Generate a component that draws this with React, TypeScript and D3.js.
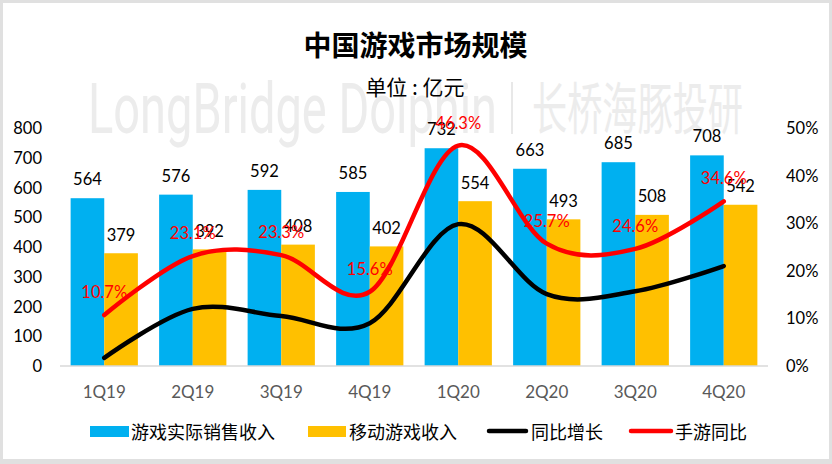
import React from 'react';
import * as d3 from 'd3';

const categories = ['1Q19', '2Q19', '3Q19', '4Q19', '1Q20', '2Q20', '3Q20', '4Q20'];
const totalRevenue = [564, 576, 592, 585, 732, 663, 685, 708];
const mobileRevenue = [379, 392, 408, 402, 554, 493, 508, 542];
const totalYoY = [1.7, 12.0, 10.5, 9.0, 29.8, 15.1, 15.7, 21.0];
const mobileYoY = [10.7, 23.1, 23.3, 15.6, 46.3, 25.7, 24.6, 34.6];
const leftTicks = [0, 100, 200, 300, 400, 500, 600, 700, 800];
const rightTicks = [0, 10, 20, 30, 40, 50];
const legendItems = ['游戏实际销售收入', '移动游戏收入', '同比增长', '手游同比'];

const W = 832;
const H = 464;
const BLUE = '#00B0F0';
const ORANGE = '#FFC000';
const RED = '#FF0000';
const NUM_FONT = 'Lato, "Liberation Sans", sans-serif';
const CJK_FONT = '"Noto Sans CJK SC", "Noto Sans", sans-serif';

export default function App() {
  const x = d3.scaleBand<string>().domain(categories).range([60, 768]).paddingInner(0.24).paddingOuter(0.12);
  const sub = d3.scaleBand<string>().domain(['total', 'mobile']).range([0, x.bandwidth()]);
  const yL = d3.scaleLinear().domain([0, 800]).range([366, 128]);
  const yR = d3.scaleLinear().domain([0, 50]).range([366, 128]);
  const cx = (c: string) => (x(c) as number) + x.bandwidth() / 2;

  const lineGen = d3
    .line<number>()
    .x((_, i) => cx(categories[i]))
    .y((d) => yR(d))
    .curve(d3.curveCatmullRom.alpha(0));

  return (
    <svg width={W} height={H} style={{ position: 'absolute', left: 0, top: 0, background: '#fff' }}>
      <rect x={0} y={0} width={W} height={H} fill="#e0e0e0" />
      <rect x={3} y={3} width={W - 6} height={H - 8} fill="#ffffff" />

      {/* watermark */}
      <g fill="#ececec">
        <text x={88} y={133} fontSize={70} fontFamily="Roboto, sans-serif" fontWeight={400} textLength={409} lengthAdjust="spacingAndGlyphs">
          LongBridge Dolphin
        </text>
        <line x1={512} x2={512} y1={82} y2={134} stroke="#e8e8e8" strokeWidth={2} />
        <text x={532} y={129} fontSize={56} fontFamily={CJK_FONT} fontWeight={400} textLength={211} lengthAdjust="spacingAndGlyphs">
          长桥海豚投研
        </text>
      </g>

      {/* title */}
      <text x={415.5} y={44} textAnchor="middle" dominantBaseline="central" fontSize={28} fontWeight="bold" fontFamily={CJK_FONT} fill="#000">
        中国游戏市场规模
      </text>
      <text x={415} y={86} textAnchor="middle" dominantBaseline="central" fontSize={21} fontFamily={CJK_FONT} fill="#000">
        单位 : 亿元
      </text>

      {/* bars */}
      {categories.map((c, i) => (
        <g key={c}>
          <rect x={(x(c) as number) + (sub('total') as number)} y={yL(totalRevenue[i])} width={sub.bandwidth()} height={yL(0) - yL(totalRevenue[i])} fill={BLUE} />
          <rect x={(x(c) as number) + (sub('mobile') as number)} y={yL(mobileRevenue[i])} width={sub.bandwidth()} height={yL(0) - yL(mobileRevenue[i])} fill={ORANGE} />
        </g>
      ))}

      {/* baseline */}
      <line x1={60} x2={768} y1={yL(0)} y2={yL(0)} stroke="#d9d9d9" strokeWidth={1.5} />

      {/* lines */}
      <path d={lineGen(totalYoY) || ''} fill="none" stroke="#000" strokeWidth={4.5} strokeLinecap="round" />
      <path d={lineGen(mobileYoY) || ''} fill="none" stroke={RED} strokeWidth={4.5} strokeLinecap="round" />

      {/* bar labels */}
      <g fontFamily={NUM_FONT} fontSize={16.5} fill="#000" textAnchor="middle">
        {categories.map((c, i) => (
          <g key={c}>
            <text x={(x(c) as number) + (sub('total') as number) + sub.bandwidth() / 2} y={yL(totalRevenue[i]) - 13}>
              {totalRevenue[i]}
            </text>
            <text x={(x(c) as number) + (sub('mobile') as number) + sub.bandwidth() / 2} y={yL(mobileRevenue[i]) - 12.5}>
              {mobileRevenue[i]}
            </text>
          </g>
        ))}
      </g>

      {/* red labels */}
      <g fontFamily={NUM_FONT} fontSize={16.5} fill={RED} textAnchor="middle">
        {categories.map((c, i) => (
          <text key={c} x={cx(c)} y={yR(mobileYoY[i]) - 17}>
            {mobileYoY[i].toFixed(1)}%
          </text>
        ))}
      </g>

      {/* left axis */}
      <g fontFamily={NUM_FONT} fontSize={16.5} fill="#000" textAnchor="end">
        {leftTicks.map((t) => (
          <text key={t} x={42} y={yL(t)} dominantBaseline="central">
            {t}
          </text>
        ))}
      </g>
      {/* right axis */}
      <g fontFamily={NUM_FONT} fontSize={16.5} fill="#000" textAnchor="start">
        {rightTicks.map((t) => (
          <text key={t} x={786} y={yR(t)} dominantBaseline="central">
            {t}%
          </text>
        ))}
      </g>
      {/* category labels */}
      <g fontFamily={NUM_FONT} fontSize={17} fill="#595959" textAnchor="middle">
        {categories.map((c) => (
          <text key={c} x={cx(c)} y={391} dominantBaseline="central">
            {c}
          </text>
        ))}
      </g>

      {/* legend */}
      <g fontFamily={CJK_FONT} fontSize={18} fill="#000">
        <rect x={90} y={426} width={39} height={11} fill={BLUE} />
        <text x={131} y={431} dominantBaseline="central">{legendItems[0]}</text>
        <rect x={308} y={426} width={38} height={11} fill={ORANGE} />
        <text x={349} y={431} dominantBaseline="central">{legendItems[1]}</text>
        <line x1={489} x2={526} y1={431} y2={431} stroke="#000" strokeWidth={4.5} strokeLinecap="round" />
        <text x={531} y={431} dominantBaseline="central">{legendItems[2]}</text>
        <line x1={631} x2={671} y1={431} y2={431} stroke={RED} strokeWidth={4.5} strokeLinecap="round" />
        <text x={675} y={431} dominantBaseline="central">{legendItems[3]}</text>
      </g>
    </svg>
  );
}
